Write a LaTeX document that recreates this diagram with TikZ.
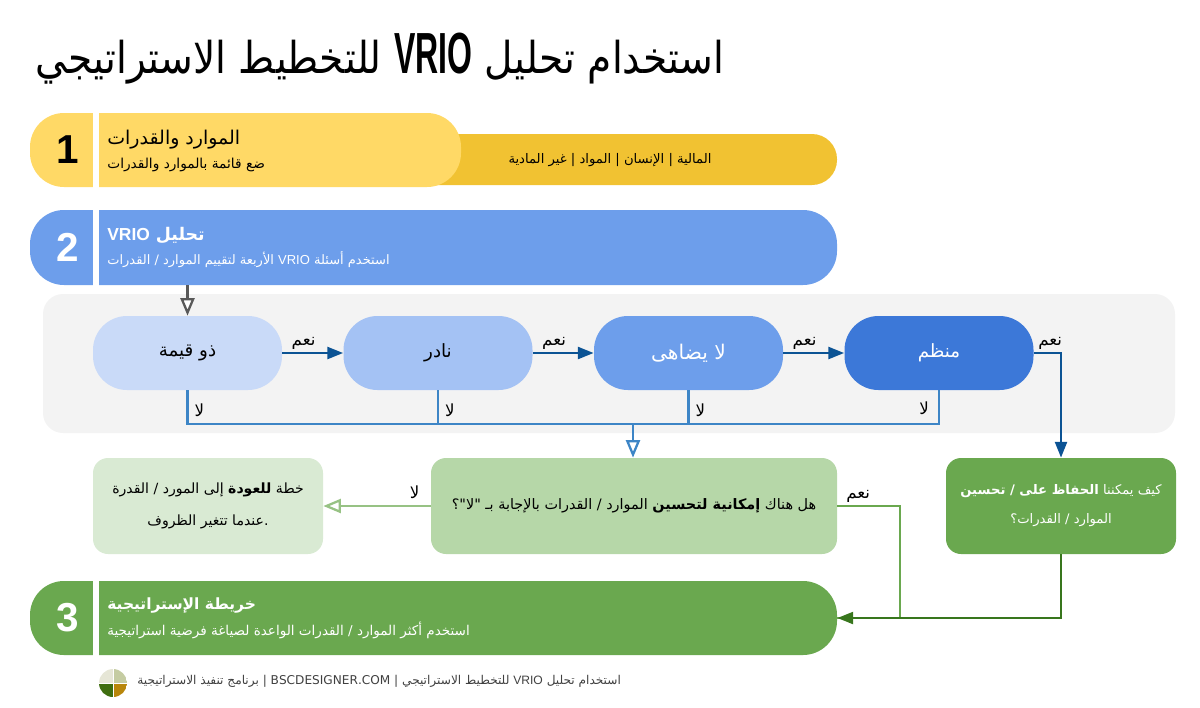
\documentclass[tikz,border=0pt]{standalone}
\usepackage{fontspec}
\usepackage{xcolor}
\setmainfont{Liberation Sans}
\newfontfamily\arabicfont[Script=Arabic]{DejaVu Sans}
\TeXXeTstate=1
\newcommand{\ar}[1]{{\arabicfont\beginR #1\endR}}
\newcommand{\vrio}{\beginL{\rmfamily VRIO}\endL{}}
\newcommand{\fsize}[1]{\fontsize{#1}{#1}\selectfont}
\definecolor{gold}{HTML}{F1C232}
\definecolor{sand}{HTML}{FFD966}
\definecolor{sky}{HTML}{6D9EEB}
\definecolor{leaf}{HTML}{6AA84F}
\definecolor{panelgray}{HTML}{F3F3F3}
\definecolor{nocolor}{HTML}{3D85C6}
\definecolor{yescolor}{HTML}{0B5394}
\definecolor{mapcolor}{HTML}{38761D}
\usetikzlibrary{arrows.meta}

\begin{document}
\begin{tikzpicture}[
    font=\fsize{8},
    band/.style={rounded corners=0.68cm, minimum height=1.48cm, inner sep=0pt},
    stripe/.style={fill=white, minimum width=0.13cm, minimum height=1.52cm, inner sep=0pt},
    number/.style={font=\fsize{23}\bfseries},
    bandtext/.style={anchor=west, align=left, inner sep=0pt},
    test/.style={rounded corners=0.68cm, minimum width=3.78cm, minimum height=1.48cm, inner sep=0pt, font=\fsize{10.4}},
    question/.style={rounded corners=0.3cm, minimum height=1.92cm, align=center, inner sep=0pt, font=\fsize{7.5}},
    yesflow/.style={-{Triangle[length=9pt,width=6.8pt]}, line width=1.4pt, draw=yescolor},
    noline/.style={line width=1.2pt, draw=nocolor},
    hollow/.style={-{Triangle[open,fill=white,length=10pt,width=8pt]}, line width=1.3pt},
    elabel/.style={inner sep=1.5pt, font=\fsize{9.5}},
  ]
  \useasboundingbox (0,0) rectangle (24,-14.14);
  \node[inner sep=0pt] (title) at (7.60,-1.17) {\scalebox{0.89}[1]{\fsize{25}\ar{استخدام تحليل \beginL\scalebox{0.62}[1]{\fsize{33}\bfseries\rmfamily VRIO}\endL{} للتخطيط الاستراتيجي}}};
  \node[band, fill=gold, rounded corners=0.5cm, minimum width=8.74cm, minimum height=1.02cm] (list) at (12.37,-3.19) {};
  \node[band, fill=sand, minimum width=8.62cm] (res) at (4.91,-3.00) {};
  \node[band, fill=sky, minimum width=16.14cm, minimum height=1.50cm] (vrio) at (8.67,-4.95) {};
  \node[band, fill=leaf, minimum width=16.14cm] (map) at (8.67,-12.36) {};
  \node[stripe] (s1) at (1.92,-3.00) {};
  \node[stripe] (s2) at (1.92,-4.95) {};
  \node[stripe] (s3) at (1.92,-12.36) {};
  \node[number] (n1) at (1.36,-3.00) {1};
  \node[number, text=white] (n2) at (1.36,-4.95) {2};
  \node[number, text=white] (n3) at (1.36,-12.36) {3};
  \node[bandtext] (t1) at (2.14,-3.02) {{\fsize{10.8}\ar{الموارد والقدرات}}\\[4pt]{\fsize{7.8}\ar{ضع قائمة بالموارد والقدرات}}};
  \node[font=\fsize{7.5}, inner sep=0pt] (t1b) at (12.20,-3.21) {\ar{المالية | الإنسان | المواد | غير المادية}};
  \node[bandtext, text=white] (t2) at (2.14,-4.95) {{\fsize{9.9}\bfseries\ar{تحليل \vrio}}\\[3pt]{\fsize{7.4}\ar{استخدم أسئلة \vrio{} الأربعة لتقييم الموارد / القدرات}}};
  \node[bandtext, text=white] (t3) at (2.14,-12.36) {{\fsize{8.8}\bfseries\ar{خريطة الإستراتيجية}}\\[4pt]{\fsize{7.7}\ar{استخدم أكثر الموارد / القدرات الواعدة لصياغة فرضية استراتيجية}}};
  \node[fill=panelgray, rounded corners=0.4cm, minimum width=22.64cm, minimum height=2.78cm, inner sep=0pt] (panel) at (12.18,-7.27) {};
  \node[test, fill={rgb,255:red,201;green,218;blue,248}] (valuable) at (3.75,-7.06) {\ar{ذو قيمة}};
  \node[test, fill={rgb,255:red,164;green,194;blue,244}] (rare) at (8.76,-7.06) {\ar{نادر}};
  \node[test, fill=sky, text=white, font=\fsize{11.5}] (inimitable) at (13.77,-7.06) {\ar{لا يضاهى}};
  \node[test, fill={rgb,255:red,60;green,120;blue,216}, text=white] (organized) at (18.78,-7.06) {\ar{منظم}};
  \node[question, fill={rgb,255:red,217;green,234;blue,211}, minimum width=4.60cm, font=\fsize{8}] (later) at (4.16,-10.12) {\ar{خطة {\bfseries للعودة} إلى المورد / القدرة}\\[9pt]\ar{.عندما تتغير الظروف}};
  \node[question, fill={rgb,255:red,182;green,215;blue,168}, minimum width=8.12cm, font=\fsize{8.2}] (improve) at (12.68,-10.12) {\ar{هل هناك {\bfseries إمكانية لتحسين} الموارد / القدرات بالإجابة بـ "لا"؟}};
  \node[question, fill=leaf, text=white, minimum width=4.60cm] (keep) at (21.22,-10.12) {\ar{كيف يمكننا {\bfseries الحفاظ على / تحسين}}\\[8pt]\ar{الموارد / القدرات؟}};
  \coordinate (bus) at (12.66,-8.48);
  \draw[hollow, draw=black!65] (vrio.south -| valuable) -- (valuable.north);
  \draw[yesflow] (valuable) -- node[elabel,above,pos=0.35] {\ar{نعم}} (rare);
  \draw[yesflow] (rare) -- node[elabel,above,pos=0.35] {\ar{نعم}} (inimitable);
  \draw[yesflow] (inimitable) -- node[elabel,above,pos=0.35] {\ar{نعم}} (organized);
  \draw[yesflow] (organized.east) -- node[elabel,above,pos=0.6] {\ar{نعم}} (organized.east -| keep.north) -- (keep.north);
  \draw[noline] (valuable.south) -- node[elabel,right,pos=0.6,xshift=2pt] {\ar{لا}} (valuable.south |- bus) -| (organized.south);
  \draw[noline] (rare.south) -- node[elabel,right,pos=0.6,xshift=2pt] {\ar{لا}} (rare.south |- bus);
  \draw[noline] (inimitable.south) -- node[elabel,right,pos=0.6,xshift=2pt] {\ar{لا}} (inimitable.south |- bus);
  \node[elabel] (nolast) at (18.48,-8.16) {\ar{لا}};
  \draw[hollow, draw=nocolor] (bus) -- (bus |- improve.north);
  \draw[hollow, draw=leaf!70!white] (improve.west) -- node[elabel,above,pos=0.15,yshift=2pt] {\ar{لا}} (later.east);
  \draw[line width=1.2pt, draw=leaf] (improve.east) -- node[elabel,above,pos=0.33] {\ar{نعم}} ++(1.26,0) |- (map.east);
  \draw[-{Triangle[length=9pt,width=6.8pt]}, line width=1.4pt, draw=mapcolor] (keep.south) |- (map.east);
  \node[circle, minimum size=0.56cm, inner sep=0pt, path picture={
      \fill[fill={rgb,255:red,230;green,230;blue,214}] (path picture bounding box.center) rectangle (path picture bounding box.north west);
      \fill[fill={rgb,255:red,197;green,204;blue,162}] (path picture bounding box.center) rectangle (path picture bounding box.north east);
      \fill[fill={rgb,255:red,63;green,110;blue,16}] (path picture bounding box.center) rectangle (path picture bounding box.south west);
      \fill[fill={rgb,255:red,184;green,134;blue,11}] (path picture bounding box.center) rectangle (path picture bounding box.south east);
      \draw[white, line width=0.5pt] (path picture bounding box.north) -- (path picture bounding box.south) (path picture bounding box.west) -- (path picture bounding box.east);
    }] (logo) at (2.26,-13.66) {};
  \node[anchor=west, inner sep=0pt, text=black!75, font=\fsize{6.9}] (foot) at (2.74,-13.63) {\ar{استخدام تحليل \vrio{} للتخطيط الاستراتيجي | \beginL BSCDESIGNER.COM\endL{} | برنامج تنفيذ الاستراتيجية}};
\end{tikzpicture}
\end{document}
